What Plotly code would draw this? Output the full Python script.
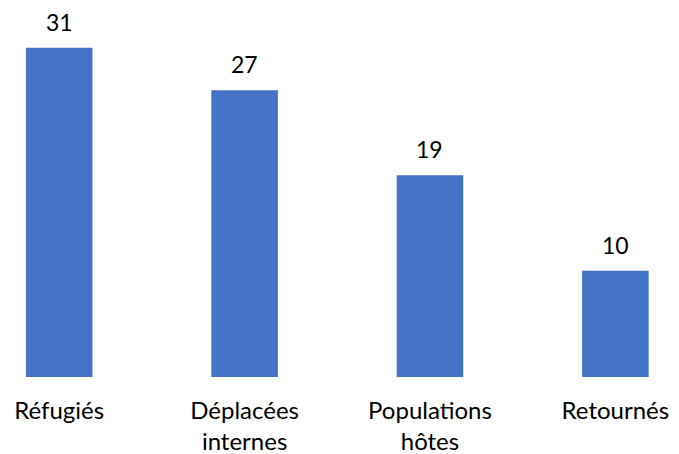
import plotly.graph_objects as go

# Chart data
categories = ["Réfugiés", "Déplacées<br>internes", "Populations<br>hôtes", "Retournés"]
values = [31, 27, 19, 10]
positions = list(range(len(categories)))

BAR_COLOR = "#4472C4"
FONT = "Lato, Carlito, Calibri, sans-serif"

fig = go.Figure()
fig.add_trace(go.Bar(
    x=positions,
    y=values,
    width=0.359,
    marker=dict(color=BAR_COLOR, line=dict(width=0)),
    hoverinfo="skip",
))

# value labels above each bar
for x, v in zip(positions, values):
    fig.add_annotation(
        x=x, y=v, text=str(v), showarrow=False,
        xanchor="center", yanchor="middle", yshift=26,
        font=dict(family=FONT, size=23, color="#000000"),
    )

fig.update_layout(
    width=679, height=454,
    margin=dict(l=0, r=0, t=0, b=77),
    paper_bgcolor="white", plot_bgcolor="white",
    showlegend=False,
    font=dict(family=FONT, size=24, color="#000000"),
)
fig.update_xaxes(
    range=[-0.3193, 3.3431],
    tickvals=positions, ticktext=categories,
    showgrid=False, zeroline=False, showline=False,
    ticks="", ticklabelstandoff=17,
    tickfont=dict(family=FONT, size=24, color="#000000"),
)
fig.update_yaxes(
    range=[0, 35.5],
    visible=False, showgrid=False, zeroline=False,
)

fig.write_html("out.html")
